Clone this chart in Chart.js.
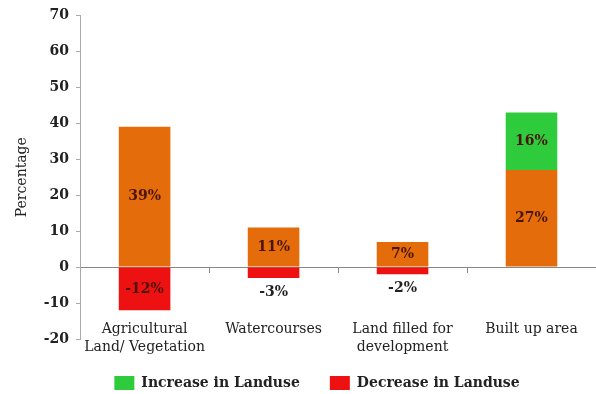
<!DOCTYPE html>
<html>
<head>
<meta charset="utf-8">
<script src="https://cdn.jsdelivr.net/npm/chart.js@4.4.0/dist/chart.umd.min.js"></script>
<style>
  html, body { margin: 0; padding: 0; background: #fff; }
  #wrap { width: 596px; height: 394px; }
</style>
</head>
<body>
<div id="wrap"><canvas id="chartLanduse"></canvas></div>
<script>
const categories = [['Agricultural', 'Land/ Vegetation'], 'Watercourses', ['Land filled for', 'development'], 'Built up area'];
const baseValues = [39, 11, 7, 27];
const increaseValues = [null, null, null, 16];
const decreaseValues = [-12, -3, -2, null];
const yMin = -20;
const yMax = 70;
const yStep = 10;

const serif = "'DejaVu Serif', Georgia, serif";

// percentage text on each bar segment
const barLabels = {
    id: 'barLabels',
    afterDatasetsDraw(chart) {
        const ctx = chart.ctx;
        ctx.save();
        ctx.textAlign = 'center';
        ctx.textBaseline = 'middle';
        ctx.font = 'bold 14px ' + serif;
        chart.data.datasets.forEach((ds, i) => {
            const meta = chart.getDatasetMeta(i);
            meta.data.forEach((bar, j) => {
                const v = ds.data[j];
                if (v === null || v === undefined) return;
                const h = Math.abs(bar.base - bar.y);
                let y = (bar.y + bar.base) / 2;
                ctx.fillStyle = '#4a140a';
                if (v < 0 && h < 16) {
                    y = bar.y + 14;
                    ctx.fillStyle = '#222';
                }
                ctx.fillText(v + '%', bar.x, y);
            });
        });
        ctx.restore();
    }
};

// category names sit just above the -20 line, like the original
const categoryLabels = {
    id: 'categoryLabels',
    afterDraw(chart) {
        const ctx = chart.ctx;
        const xs = chart.scales.x;
        const bottom = chart.chartArea.bottom;
        ctx.save();
        ctx.textAlign = 'center';
        ctx.textBaseline = 'middle';
        ctx.fillStyle = '#222';
        ctx.font = '14px ' + serif;
        chart.data.labels.forEach((lab, i) => {
            const lines = Array.isArray(lab) ? lab : [lab];
            const x = xs.getPixelForValue(i);
            lines.forEach((t, k) => ctx.fillText(t, x, bottom - 10 + k * 18));
        });
        ctx.restore();
    }
};

// keep the wide gap between legend items without a tall legend box
const legendFit = {
    id: 'legendFit',
    beforeInit(chart) {
        const legend = chart.legend;
        if (!legend) return;
        const fit = legend.fit;
        legend.fit = function() {
            fit.call(this);
            this.height = 48;
        };
    },
    afterLayout(chart) {
        // legend sits a bit right of centre in the original
        if (chart.legend) {
            chart.legend.left += 14;
            chart.legend.right += 14;
        }
    }
};

new Chart(document.getElementById('chartLanduse'), {
    type: 'bar',
    data: {
        labels: categories,
        datasets: [{
            label: 'Base',
            data: baseValues,
            backgroundColor: '#e46c0a',
            categoryPercentage: 0.4,
            barPercentage: 1
        }, {
            label: 'Increase in Landuse',
            data: increaseValues,
            backgroundColor: '#2ecc3c',
            categoryPercentage: 0.4,
            barPercentage: 1
        }, {
            label: 'Decrease in Landuse',
            data: decreaseValues,
            backgroundColor: '#ee1111',
            categoryPercentage: 0.4,
            barPercentage: 1
        }]
    },
    options: {
        responsive: true,
        maintainAspectRatio: false,
        animation: false,
        layout: { padding: { top: 7, left: 10, right: 0, bottom: 0 } },
        plugins: {
            legend: {
                position: 'bottom',
                labels: {
                    filter: item => item.text !== 'Base',
                    boxWidth: 20,
                    boxHeight: 14,
                    padding: 30,
                    color: '#222',
                    font: { family: serif, size: 14, weight: 'bold' }
                }
            },
            tooltip: { enabled: false }
        },
        scales: {
            x: {
                stacked: true,
                grid: { display: false },
                border: { display: false },
                ticks: { display: false },
                afterFit: scale => { scale.height = 7; }
            },
            x2: {
                type: 'category',
                position: { y: 0 },
                offset: true,
                grid: { drawOnChartArea: false, tickLength: 5, color: '#888', offset: true },
                border: { color: '#888' },
                ticks: { display: false }
            },
            y: {
                stacked: true,
                min: yMin,
                max: yMax,
                grid: { drawOnChartArea: false, tickLength: 4, color: '#aaa' },
                border: { color: '#aaa' },
                ticks: {
                    stepSize: yStep,
                    padding: 7,
                    color: '#222',
                    font: { family: serif, size: 14, weight: 'bold' }
                },
                title: {
                    display: true,
                    text: 'Percentage',
                    color: '#222',
                    padding: { bottom: 6 },
                    font: { family: serif, size: 14 }
                }
            }
        }
    },
    plugins: [barLabels, categoryLabels, legendFit]
});
</script>
</body>
</html>
